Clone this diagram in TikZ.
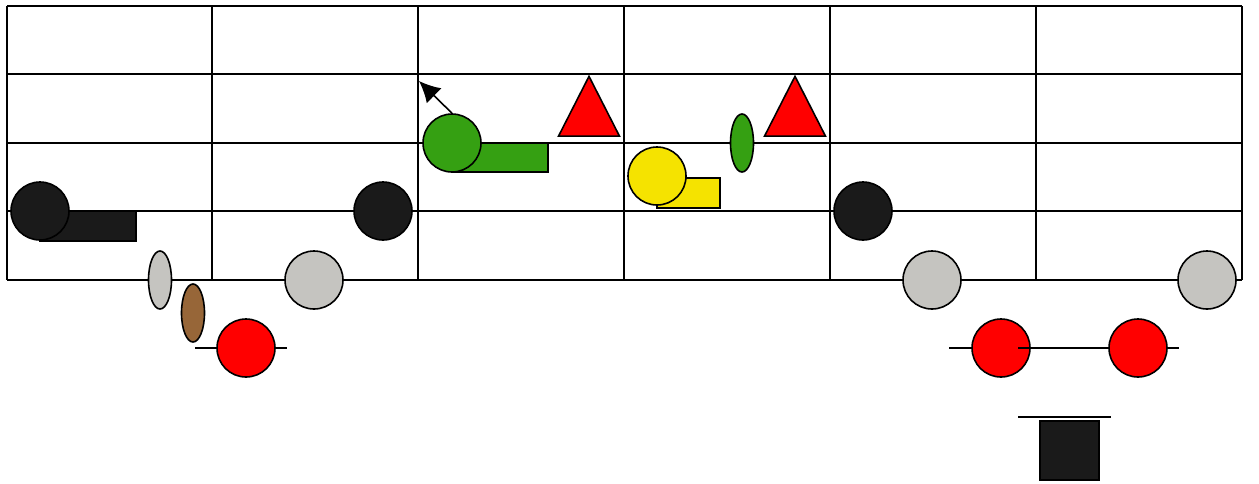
\documentclass[tikz,border=0pt]{standalone}
\usetikzlibrary{shapes.geometric,arrows.meta}
\definecolor{pblack}{HTML}{1A1A1A}
\definecolor{pgrey}{HTML}{C5C4C0}
\definecolor{pgreen}{HTML}{35A012}
\definecolor{pyellow}{HTML}{F5E300}
\definecolor{pbrown}{HTML}{976638}
\definecolor{pred}{HTML}{FF0000}
\tikzset{
  gridline/.style={line width=2pt},
  piece/.style={draw=black,line width=1.6pt,inner sep=0pt},
  disc/.style={piece,circle,minimum size=58pt},
  oval/.style={piece,ellipse,minimum width=23pt,minimum height=58pt},
  bar/.style={piece},
  tri/.style={piece,isosceles triangle,isosceles triangle apex angle=54,shape border rotate=90,minimum height=59pt,minimum width=61pt},
  rule/.style={line width=1.4pt},
}
\begin{document}
\begin{tikzpicture}[x=1pt,y=-1pt]
\useasboundingbox (0,0) rectangle (1259,483);
% board grid
\foreach \yy in {6,74,143,211,280} \draw[gridline] (7,\yy) -- (1242,\yy);
\foreach \xx in {7,212,418,624,830,1036,1242} \draw[gridline] (\xx,6) -- (\xx,280);
% black piece with bar, left
\draw[bar,fill=pblack] (40,211) rectangle (136,241);
\node[disc,fill=pblack] (b1) at (40,211) {};
\node[disc,fill=pblack] (b2) at (383,211) {};
\node[disc,fill=pblack] (b3) at (863,211) {};
% green piece with bar and arrow
\draw[bar,fill=pgreen] (452,143) rectangle (548,172);
\node[disc,fill=pgreen] (g1) at (452,143) {};
\coordinate (gA) at (419,81);
\draw[line width=1.6pt,-{Latex[length=21pt,width=21pt]}] (g1.north) -- (gA);
% red triangles
\node[tri,fill=pred] (t1) at (589,117.5) {};
\node[tri,fill=pred] (t2) at (795,117.5) {};
% yellow piece with bar
\draw[bar,fill=pyellow] (657,178) rectangle (720,208);
\node[disc,fill=pyellow] (y1) at (657,176) {};
% green oval
\node[oval,fill=pgreen] (g2) at (742,143) {};
% grey / brown ovals
\node[oval,fill=pgrey] (o1) at (160,280) {};
\node[oval,fill=pbrown] (o2) at (193,313) {};
% grey discs
\node[disc,fill=pgrey] (s1) at (314,280) {};
\node[disc,fill=pgrey] (s2) at (932,280) {};
\node[disc,fill=pgrey] (s3) at (1207,280) {};
% red discs with rules
\coordinate (rL1) at (195,348); \coordinate (rR1) at (287,348);
\draw[rule] (rL1) -- (rR1);
\node[disc,fill=pred] (r1) at (246,348) {};
\coordinate (rL2) at (949,348); \coordinate (rR2) at (1042,348);
\coordinate (rL3) at (1087,348); \coordinate (rR3) at (1179,348);
\coordinate (mL) at (1018,348); \coordinate (mR) at (1110,348);
\draw[rule] (rL2) -- (rR2);
\draw[rule] (rL3) -- (rR3);
\node[disc,fill=pred] (r2) at (1001,348) {};
\draw[rule] (mL) -- (mR);
\node[disc,fill=pred] (r3) at (1138,348) {};
% black square with rule
\coordinate (qL) at (1018,417); \coordinate (qR) at (1111,417);
\draw[rule] (qL) -- (qR);
\node[piece,fill=pblack,minimum size=59pt] (q1) at (1069.5,450.5) {};
\end{tikzpicture}
\end{document}
